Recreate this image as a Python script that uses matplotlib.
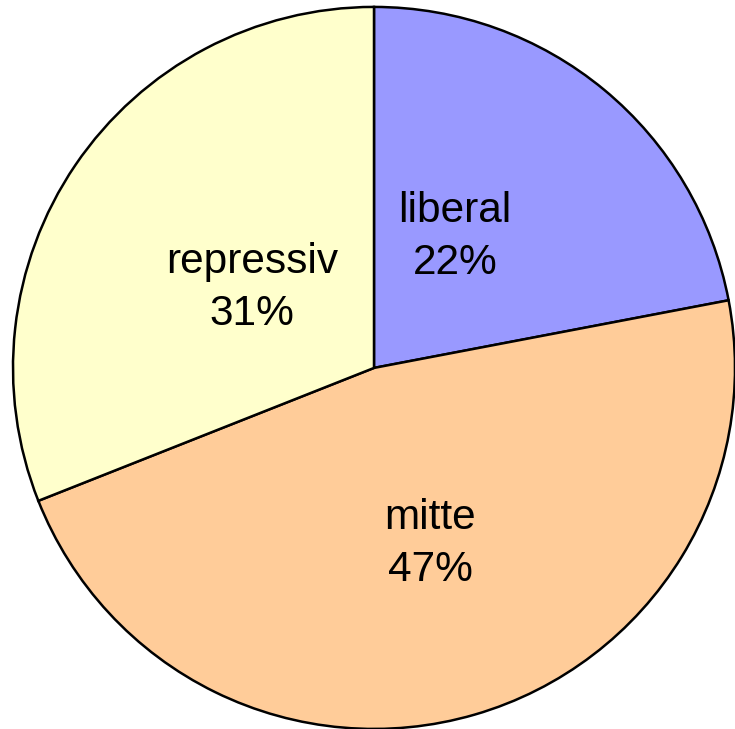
import matplotlib.pyplot as plt

# data
labels = ["liberal", "mitte", "repressiv"]
shares = [22, 47, 31]
colors = ["#9999ff", "#ffcc99", "#ffffcc"]

# where each label sits (data units, pie radius = 1)
label_pos = [(0.224, 0.363), (0.155, -0.488), (-0.338, 0.222)]

fig = plt.figure(figsize=(7.35, 7.29), dpi=100)
ax = fig.add_axes([0, 0, 1, 1])

ax.pie(shares, colors=colors, startangle=90, counterclock=False,
       radius=1.0, wedgeprops=dict(edgecolor="black", linewidth=1.8))

for lab, val, (x, y) in zip(labels, shares, label_pos):
    ax.text(x, y, f"{lab}\n{val}%", ha="center", va="center",
            fontsize=30.5, family="Liberation Sans", linespacing=1.4)

ax.set_xlim(-1.036, 1.0)
ax.set_ylim(-1.0, 1.019)
ax.set_aspect("equal")
ax.axis("off")

fig.savefig("out.png", dpi=100)
